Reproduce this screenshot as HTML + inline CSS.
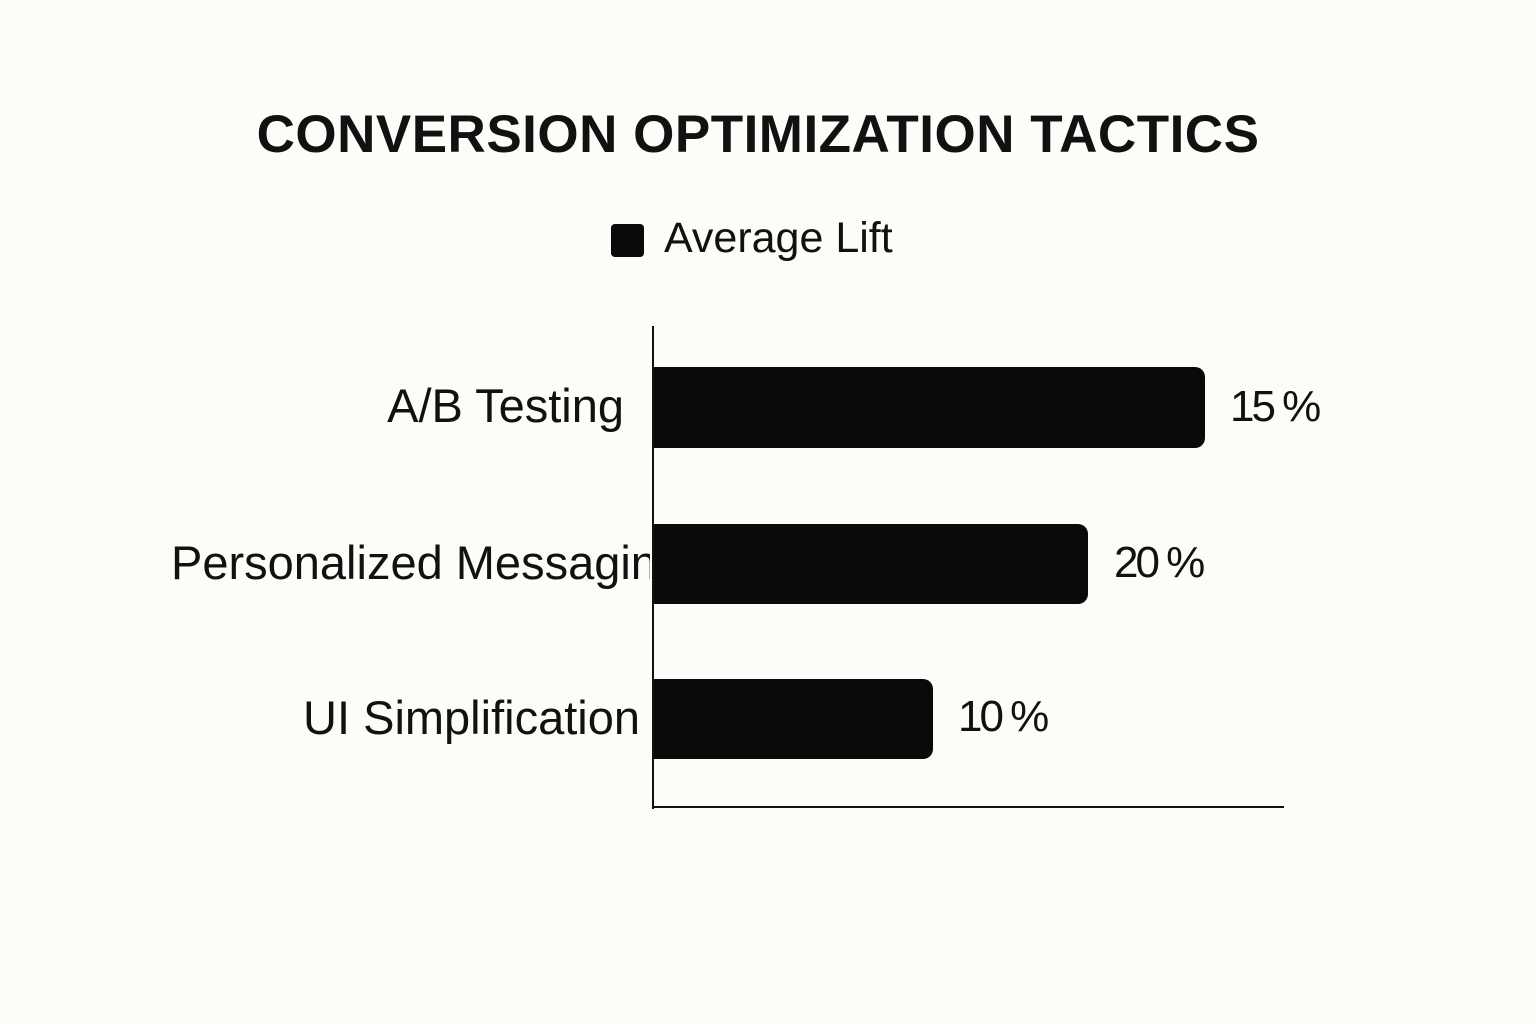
<!DOCTYPE html>
<html><head><style>
body{margin:0;width:1536px;height:1024px;background:#fcfcf8;position:relative;overflow:hidden;font-family:"Liberation Sans",sans-serif;color:#111}
div{position:absolute}
.t{left:0;width:1516px;text-align:center;top:104px;font-size:53px;font-weight:bold;letter-spacing:0.5px}
.bar{background:#0a0a0a;left:654px;border-radius:0 10px 10px 0}
.lab{font-size:47px;text-align:right;white-space:nowrap}
.val{font-size:44px;letter-spacing:-3px}
</style></head><body>
<div class="t">CONVERSION OPTIMIZATION TACTICS</div>
<div style="left:611px;top:224px;width:33px;height:33px;background:#0a0a0a;border-radius:4px"></div>
<div style="left:664px;top:214px;font-size:43px">Average Lift</div>
<div style="left:652px;top:326px;width:2px;height:483px;background:#111"></div>
<div style="left:652px;top:806px;width:632px;height:2px;background:#111"></div>
<div class="bar" style="top:367px;width:551px;height:81px"></div>
<div class="bar" style="top:524px;width:434px;height:80px"></div>
<div class="bar" style="top:679px;width:279px;height:80px"></div>
<div class="lab" style="top:378px;right:912px">A/B Testing</div>
<div class="lab" style="top:535px;left:171px;width:479px;overflow:hidden;text-align:left">Personalized Messaging</div>
<div class="lab" style="top:690px;right:896px">UI Simplification</div>
<div class="val" style="left:1230px;top:382px">15 %</div>
<div class="val" style="left:1114px;top:538px">20 %</div>
<div class="val" style="left:958px;top:692px">10 %</div>
</body></html>
